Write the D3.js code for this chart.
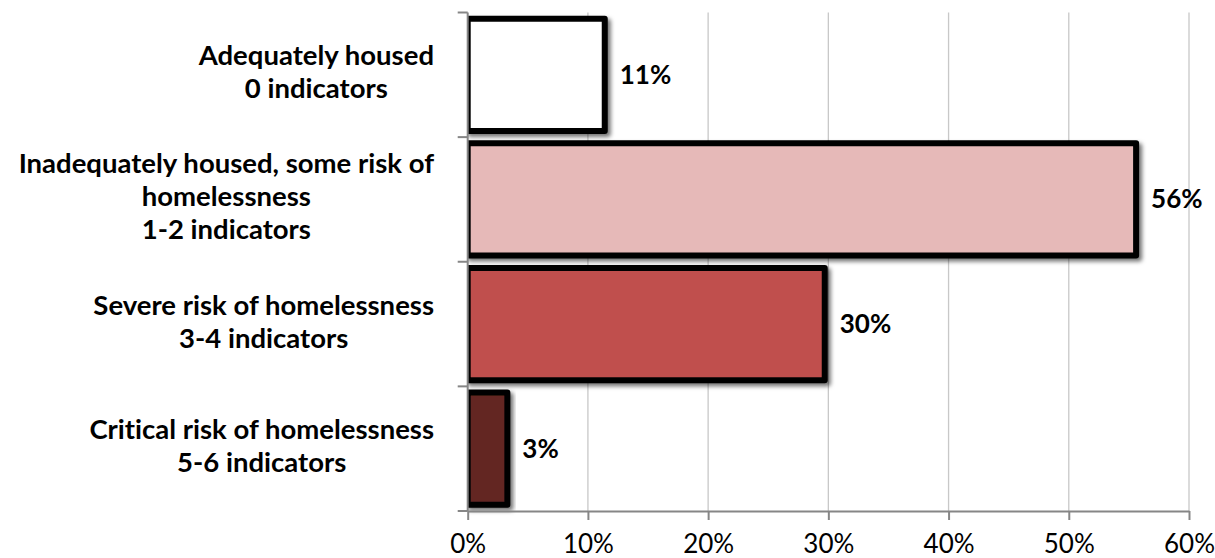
<!DOCTYPE html>
<html>
<head>
<meta charset="utf-8">
<script src="https://cdn.jsdelivr.net/npm/d3@7"></script>
<style>
  html, body { margin: 0; padding: 0; background: #ffffff; }
  svg { display: block; }
  text { font-family: Lato, "Noto Sans", sans-serif; fill: #000; font-variant-ligatures: none; font-feature-settings: "liga" 0, "clig" 0; }
</style>
</head>
<body>
<svg id="chart" width="1215" height="558"></svg>
<script>
// ---- data ----
const categoryLines = [
  ["Adequately housed", "0 indicators"],
  ["Inadequately housed, some risk of", "homelessness", "1-2 indicators"],
  ["Severe risk of homelessness", "3-4 indicators"],
  ["Critical risk of homelessness", "5-6 indicators"]
];
const values = [0.114, 0.556, 0.297, 0.033];
const valueLabels = ["11%", "56%", "30%", "3%"];
const xTicks = [0, 0.1, 0.2, 0.3, 0.4, 0.5, 0.6];
const xTickLabels = ["0%", "10%", "20%", "30%", "40%", "50%", "60%"];
const barColors = ["#FFFFFF", "#E6B9B8", "#C0504D", "#632523"];

// ---- layout ----
const W = 1215, H = 558;
const plot = { left: 467.7, right: 1189, top: 12.5, bottom: 511 };
const svg = d3.select("#chart");

const x = d3.scaleLinear().domain([0, 0.6]).range([plot.left, plot.right]);
const idx = d3.range(values.length);
const y = d3.scaleBand().domain(idx).range([plot.top, plot.bottom])
  .paddingInner(0.1).paddingOuter(0.05);

const defs = svg.append("defs");
const f = defs.append("filter").attr("id", "shadow")
  .attr("x", "-10%").attr("y", "-10%").attr("width", "130%").attr("height", "130%");
f.append("feDropShadow").attr("dx", 3).attr("dy", 3).attr("stdDeviation", 2.2)
  .attr("flood-color", "#000").attr("flood-opacity", 0.55);
defs.append("clipPath").attr("id", "plotclip").append("rect")
  .attr("x", plot.left).attr("y", 0).attr("width", W - plot.left).attr("height", H);

// gridlines
svg.append("g").selectAll("line").data(xTicks.slice(1)).join("line")
  .attr("x1", d => x(d)).attr("x2", d => x(d))
  .attr("y1", plot.top).attr("y2", plot.bottom)
  .attr("stroke", "#C8C8C8").attr("stroke-width", 1.3);

// bars
svg.append("g").attr("clip-path", "url(#plotclip)")
  .selectAll("rect").data(idx).join("rect")
  .attr("x", x(0))
  .attr("y", i => y(i))
  .attr("width", i => x(values[i]) - x(0))
  .attr("height", y.bandwidth())
  .attr("fill", i => barColors[i])
  .attr("stroke", "#000")
  .attr("stroke-width", 6)
  .attr("stroke-linejoin", "round")
  .attr("filter", "url(#shadow)");

// x axis
const xAxis = d3.axisBottom(x).tickValues(xTicks)
  .tickFormat((d, i) => xTickLabels[i]).tickSize(9).tickSizeOuter(0);
const gx = svg.append("g").attr("transform", `translate(0,${plot.bottom})`).call(xAxis);
gx.select(".domain").attr("stroke", "#868686").attr("stroke-width", 2);
gx.selectAll(".tick line").attr("stroke", "#868686").attr("stroke-width", 2);
gx.selectAll(".tick text").attr("y", 42).attr("dy", 0)
  .style("font-family", "Lato, 'Noto Sans', sans-serif")
  .style("font-size", "26px").attr("fill", "#000");

// y axis line + ticks at band boundaries
const step = y.step();
const boundaries = d3.range(values.length + 1).map(i => plot.top + i * step);
svg.append("line").attr("x1", plot.left).attr("x2", plot.left)
  .attr("y1", plot.top).attr("y2", plot.bottom)
  .attr("stroke", "#868686").attr("stroke-width", 2);
svg.append("g").selectAll("line").data(boundaries).join("line")
  .attr("x1", plot.left - 10).attr("x2", plot.left)
  .attr("y1", d => d).attr("y2", d => d)
  .attr("stroke", "#868686").attr("stroke-width", 2);

// category labels
const labelRight = 434;
const lineH = 33;
idx.forEach(i => {
  const lines = categoryLines[i];
  const cy = y(i) + y.bandwidth() / 2;
  const g = svg.append("g");
  const texts = g.selectAll("text").data(lines).join("text")
    .attr("text-anchor", "middle")
    .attr("font-weight", "bold")
    .attr("font-size", "27.5px")
    .attr("y", (d, j) => cy + (j - (lines.length - 1) / 2) * lineH + 7)
    .text(d => d);
  let maxW = 0;
  texts.each(function () { maxW = Math.max(maxW, this.getComputedTextLength()); });
  texts.attr("x", labelRight - maxW / 2);
});

// value labels
svg.append("g").selectAll("text").data(idx).join("text")
  .attr("x", i => x(values[i]) + 15)
  .attr("y", i => y(i) + y.bandwidth() / 2 + 9)
  .attr("font-weight", "bold")
  .attr("font-size", "26px")
  .text(i => valueLabels[i]);
</script>
</body>
</html>
